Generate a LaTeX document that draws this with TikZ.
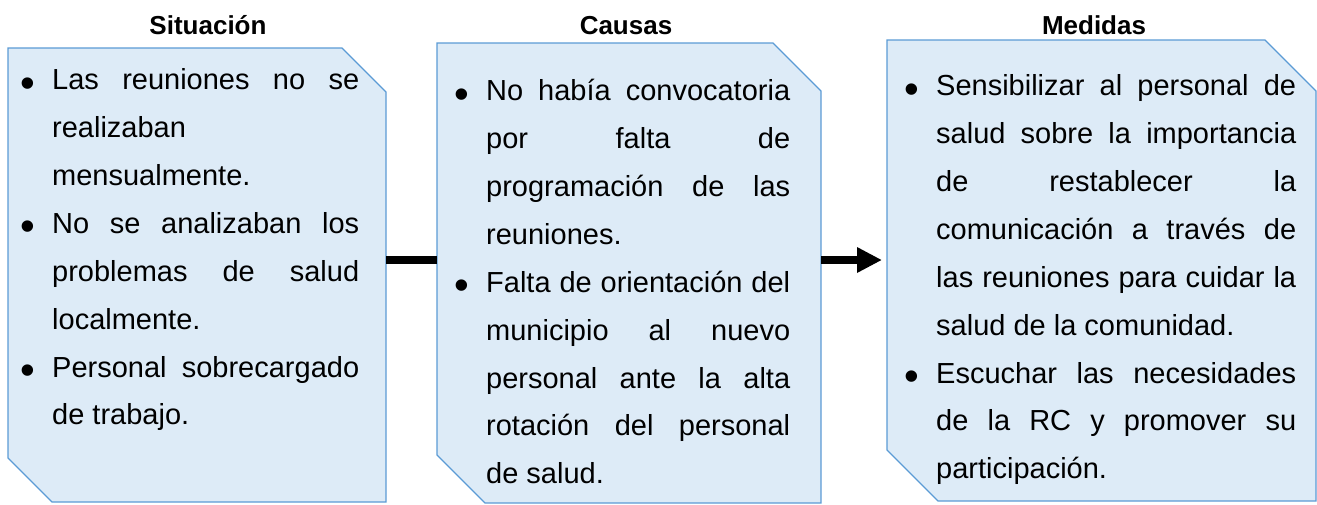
\documentclass[tikz,border=0pt]{standalone}
\usepackage{fontspec}
\setmainfont{Liberation Sans}
\usetikzlibrary{arrows.meta}
\definecolor{boxfill}{HTML}{DDEBF7}
\definecolor{boxedge}{HTML}{5B9BD5}
\hbadness=10000
\newcommand\bigbullet{{\fontsize{42}{47.9}\selectfont\raisebox{-7.5pt}{\textbullet}}}
\newcommand\itm{\par\noindent\leftskip=24pt\hangindent=0pt\strut\llap{\bigbullet\hspace{17pt}}}
\newcommand\snipoutline[2]{%
  \filldraw[boxline] (#1.north west) -- ([xshift=-#2]#1.north east) -- ([yshift=-#2]#1.north east)
    -- (#1.south east) -- ([xshift=#2]#1.south west) -- ([yshift=#2]#1.south west) -- cycle;}
\tikzset{
  boxarea/.style={rectangle, draw=none, inner sep=0pt, outer sep=0pt, anchor=north west},
  boxline/.style={draw=boxedge, fill=boxfill, line width=1.2pt, line join=miter},
  title/.style={font=\fontsize{26}{30}\selectfont\bfseries, anchor=base, inner sep=0pt},
  body/.style={font=\fontsize{29}{47.9}\selectfont, anchor=north west, inner sep=0pt, align=justify},
  link/.style={line width=8pt, black}
}
\begin{document}
\begin{tikzpicture}[x=1pt,y=-1pt]
\useasboundingbox (0,0) rectangle (1317,504);
% box frames
\node[boxarea, minimum width=378pt, minimum height=454pt] (s1) at (8,48) {};
\node[boxarea, minimum width=384pt, minimum height=460pt] (s2) at (437,43) {};
\node[boxarea, minimum width=429pt, minimum height=461pt] (s3) at (887,40) {};
\snipoutline{s1}{44pt}
\snipoutline{s2}{48pt}
\snipoutline{s3}{51pt}
% titles
\node[title] (t1) at (208,34) {Situación};
\node[title] (t2) at (626,34) {Causas};
\node[title] (t3) at (1094,34) {Medidas};
% texts
\node[body, text width=331pt] (x1) at (28,41.5) {%
\itm Las reuniones no se\linebreak realizaban\linebreak mensualmente.
\itm No se analizaban los\linebreak problemas de salud\linebreak localmente.
\itm Personal sobrecargado\linebreak de trabajo.\par};
\node[body, text width=328pt] (x2) at (462,52.5) {%
\itm No había convocatoria\linebreak por falta de\linebreak programación de las\linebreak reuniones.
\itm Falta de orientación del\linebreak municipio al nuevo\linebreak personal ante la alta\linebreak rotación del personal\linebreak de salud.\par};
\node[body, text width=384pt] (x3) at (912,47.5) {%
\itm Sensibilizar al personal de\linebreak salud sobre la importancia\linebreak de restablecer la\linebreak comunicación a través de\linebreak las reuniones para cuidar la\linebreak salud de la comunidad.
\itm Escuchar las necesidades\linebreak de la RC y promover su\linebreak participación.\par};
% connectors
\coordinate (m) at (0,260);
\draw[link] (s1.east |- m) -- (s2.west |- m);
\draw[link, -{Triangle[length=25pt,width=24pt]}, shorten >=5pt] (s2.east |- m) -- (s3.west |- m);
\end{tikzpicture}
\end{document}
